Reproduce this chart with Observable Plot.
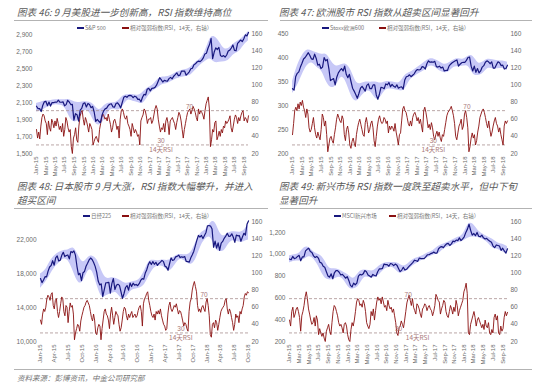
<!DOCTYPE html>
<html><head><meta charset="utf-8">
<script src="https://cdn.jsdelivr.net/npm/d3@7"></script>
<script src="https://cdn.jsdelivr.net/npm/@observablehq/plot@0.6"></script>
<style>
body{margin:0;background:#fff;}
#page{position:relative;width:543px;height:387px;overflow:hidden;font-family:"Liberation Sans",Arial,sans-serif;}
.title{position:absolute;font-family:"Noto Sans CJK SC",sans-serif;font-style:italic;font-size:9.6px;color:#5a5a5a;line-height:normal;white-space:nowrap;}
.rule{position:absolute;height:1px;background:#b3b3b3;}
.leg{position:absolute;font-family:"Noto Sans CJK SC",sans-serif;font-size:5.5px;color:#777;white-space:nowrap;line-height:7px;}
.sw{display:inline-block;width:7px;height:2px;vertical-align:middle;margin-right:1px;position:relative;top:-0.5px;}
.chart{position:absolute;}
.foot{position:absolute;font-family:"Noto Sans CJK SC",sans-serif;font-style:italic;font-size:7.5px;color:#777;white-space:nowrap;}
</style></head><body><div id="page"></div>
<script>
// ---------- tick labels ----------
const ticksBiMonthly = ["Jan-15","Mar-15","May-15","Jul-15","Sep-15","Nov-15","Jan-16","Mar-16","May-16","Jul-16","Sep-16","Nov-16","Jan-17","Mar-17","May-17","Jul-17","Sep-17","Nov-17","Jan-18","Mar-18","May-18","Jul-18","Sep-18"];
const ticksQuarterly = ["Jan-15","Apr-15","Jul-15","Oct-15","Jan-16","Apr-16","Jul-16","Oct-16","Jan-17","Apr-17","Jul-17","Oct-17","Jan-18","Apr-18","Jul-18","Oct-18"];
const rsiTicks = [20,40,60,80,100,120,140,160];
const rsiLevels = [70,30];

// ---------- S&P 500 ----------
const sp500 = [2058,2030,2030,1995,2068,2110,2117,2065,2108,2060,
2102,2100,2108,2105,2130,2107,2105,2110,2063,2077,
2128,2108,2078,2080,1893,1970,1958,1882,2013,2033,
2090,2099,2050,2090,2078,2041,2057,1990,1880,1903,
1880,1864,1951,2000,2027,2036,2066,2081,2087,2051,
2047,2090,2099,2075,2037,2102,2163,2175,2163,2184,
2186,2180,2159,2177,2168,2139,2141,2111,2164,2198,
2191,2259,2270,2239,2269,2271,2281,2307,2351,2395,
2372,2344,2363,2357,2355,2384,2399,2381,2412,2431,
2453,2419,2425,2473,2472,2474,2425,2444,2465,2500,
2507,2549,2559,2581,2591,2585,2602,2629,2675,2683,
2743,2786,2860,2620,2698,2747,2728,2752,2658,2644,
2656,2639,2663,2711,2721,2746,2782,2717,2713,2801,
2820,2840,2821,2856,2901,2888,2930];
const sp500Rsi = [48,38,45,37,52, 62,66,64,58, 55,42,58,50, 46,60,56,50, 58,52,61,55,48, 52,45,55,40, 48,62,58,50, 45,48,28,20, 38,42,50,36,33, 52,63,68,70, 60,53,62,58, 52,45,55,52,48,
30,34,38,40, 36,33,48,55, 62,66,64,60,62, 58,66,60,54, 45,50,58,60, 55,48,52,38,60, 70,72,68,62, 60,64,55,52, 48,40,55,50,44, 48,45,40,42, 30,58,62,65, 72,70,64,55,60,
60,62,55,58, 65,72,76,72, 60,52,45,50,48, 55,45,58,62, 55,42,58,60, 62,58,55,48,56, 62,68,65,58, 48,38,48,55, 62,68,70,72,66, 70,75,72,68, 62,58,72,66, 70,68,65,60,70,
78,82,86,72, 28,36,48,45, 56,58,36,40,46, 40,48,44,52, 50,58,55,57, 60,64,50,45,52, 60,65,62,55, 62,58,64,68, 70,58,62,60, 56,64];
const sp500BandLo = [1990,2000,2040,2060,2080,2070,2050,1900,1860,1900,2030,2000,1860,1820,1880,2010,2030,2000,2060,2150,2110,2110,2070,2160,2240,2260,2320,2320,2350,2380,2400,2410,2420,2480,2550,2580,2640,2560,2580,2580,2600,2680,2690,2780,2830];
const sp500BandHi = [2090,2110,2125,2125,2135,2135,2135,2140,2100,2100,2115,2110,2080,1990,2070,2100,2095,2115,2190,2195,2200,2180,2210,2280,2290,2370,2410,2400,2420,2460,2480,2490,2510,2580,2610,2690,2880,2890,2820,2720,2740,2800,2830,2880,2940];

// ---------- Stoxx Europe 600 ----------
const stoxx600 = [335,332,360,367,370,380,388,397,400,405,
410,404,397,396,407,398,384,386,377,380,
400,393,396,377,352,354,356,343,359,368,
373,377,372,382,365,358,365,350,336,330,
323,315,325,336,340,335,330,342,345,335,
335,343,343,322,313,324,338,337,335,345,
343,348,339,344,340,338,343,336,338,339,
334,353,360,361,364,360,363,366,372,375,
374,375,381,380,376,387,393,390,391,390,
392,381,380,382,378,380,372,373,373,382,
386,389,391,393,395,382,386,389,390,390,
394,400,401,382,372,382,369,377,368,372,
380,383,390,393,391,387,391,378,378,385,
391,389,383,384,376,377,384];
const stoxx600Rsi = [42,55,70,74,70, 78,72,80,76, 82,74,70,62, 72,66,50,45, 48,55,62,50,42, 38,45,40,36, 48,66,62,52, 58,42,22,30, 38,40,35,32,42, 50,60,66,62, 58,56,64,60, 42,35,48,52,44,
30,26,34,38, 32,28,42,50, 56,60,54,48,42, 40,56,62,54, 44,48,55,58, 50,35,28,40,52, 60,64,58,55, 56,62,60,55, 58,44,52,48,52, 50,46,55,45, 38,30,42,44, 58,72,75,70,68,
62,55,52,58, 52,62,66,68, 64,58,62,55,60, 52,45,70,74, 68,60,50,54, 48,56,50,40,36, 42,46,40,45, 38,34,42,40, 48,56,64,68,70, 72,75,70,64, 55,40,36,44, 52,55,60,48,52,
66,70,62,50, 22,28,38,44, 38,42,30,35,45, 52,62,66,70, 72,68,62,55, 50,58,48,40,45, 52,58,62,55, 52,45,50,42, 36,30,52,58, 55,58];
const stoxx600BandLo = [325,340,365,385,392,378,375,345,335,340,365,350,318,305,318,330,332,310,315,334,335,333,330,330,355,360,368,372,383,382,372,368,368,382,380,382,385,362,362,365,380,376,376,378,373];
const stoxx600BandHi = [350,385,405,418,413,410,405,410,390,380,385,388,375,345,345,350,348,350,345,350,350,348,345,365,368,375,382,390,398,397,392,384,388,396,398,395,404,405,385,390,398,395,393,393,390];

// ---------- Nikkei 225 ----------
const nikkei225 = [17450,16970,17280,17670,17650,18330,18820,18990,19560,19030,
19900,20130,19530,19620,20200,20560,20050,20170,20240,19780,
20650,20520,20720,20220,18900,17900,18070,17200,18140,18290,
18900,19260,19650,19880,19700,19350,18890,18200,17150,16700,
16820,15300,16140,16950,16970,17000,15730,16850,17450,16150,
16650,16770,16640,15900,15100,15680,16390,16620,16080,16920,
16500,16900,16670,16750,16600,16840,17230,17440,17370,18100,
18500,19100,19440,19110,19450,19140,19370,19010,19240,19390,
19600,19450,18910,18800,18430,19200,19900,19590,19680,20010,
20070,20220,19930,20020,19960,20050,19470,19450,19400,19900,
20270,20690,21340,22000,22550,22350,22550,22180,22550,22900,
23700,23710,23670,23300,21150,21890,21040,21680,20770,21650,
21840,22210,22470,22810,22450,22480,22740,22340,21720,22590,
22510,22530,21860,22360,22810,22600,23870,24270];
const nikkei225Rsi = [45,40,52,58,55, 60,70,74,72, 68,75,77,62, 58,68,70,55, 48,55,64,72,70, 55,50,62,60, 42,55,65,60, 62,52,22,30, 35,40,38,32,44, 50,55,60,62, 66,68,65,62, 55,48,44,52,45,
30,28,36,40, 38,22,35,45, 55,58,52,50,45, 35,52,60,50, 40,48,55,52, 50,40,32,36,45, 55,60,58,50, 45,52,48,52, 55,48,50,52,48, 50,56,60,62, 55,38,64,70, 72,76,78,68,62,
55,50,48,52, 45,55,52,56, 52,58,50,45,40, 38,33,35,52, 62,66,58,55, 58,62,60,64,58, 52,56,55,50, 44,38,42,40, 35,32,55,66,70, 80,86,90,84, 78,62,55,58, 54,60,62,58,55,
66,70,62,50, 28,25,40,42, 36,45,42,33,40, 48,55,58,60, 62,68,70,58, 52,58,55,48,42, 33,40,52,48, 50,42,55,52, 58,62,72,76, 74,78,77];
const nikkei225BandLo = [16300,16900,17800,18800,19300,19900,19600,18200,16800,16900,18500,18600,16500,15000,15500,15600,16000,15000,15000,16000,16200,16300,16600,17800,18800,18900,19000,18200,18600,19600,19800,19300,19000,19800,21500,22200,22600,20800,20600,20700,21800,22000,21700,21800,22000];
const nikkei225BandHi = [18000,18300,19500,20200,20600,20800,20800,21300,20200,19100,20000,20200,19800,18200,17300,17600,17500,17200,16800,17000,17100,17300,18300,19700,19600,19500,19700,19500,19900,20300,20300,20200,20500,22000,23000,23100,24200,24300,22600,22400,23000,23000,22900,23000,23900];

// ---------- MSCI Emerging Markets ----------
const msciEm = [956,950,980,960,965,980,990,940,975,975,
1030,1045,1055,1025,1015,985,970,980,965,925,
920,890,880,840,800,790,820,775,830,850,
850,835,810,815,800,780,795,760,715,700,
735,720,735,800,815,810,820,850,840,810,
800,790,815,805,800,840,865,865,870,910,
905,905,890,915,910,895,910,900,870,840,
855,880,855,862,880,895,910,925,945,940,
935,965,960,960,960,975,995,995,1005,1010,
1020,1010,1010,1050,1065,1070,1060,1080,1095,1100,
1080,1095,1120,1115,1130,1125,1150,1125,1140,1160,
1200,1230,1275,1220,1175,1190,1170,1200,1165,1160,
1175,1150,1140,1145,1130,1120,1110,1075,1060,1085,
1080,1075,1035,1055,1030,1010,1050];
const msciEmRsi = [45,38,55,60,48, 52,58,60,55, 48,32,50,55, 62,72,78,70, 58,52,45,40,42, 48,38,50,45, 28,35,30,26, 30,24,20,32, 36,40,32,28,42, 55,62,60,55, 50,42,38,40, 36,30,40,42,38,
28,22,20,34, 42,38,45,55, 66,70,68,62,64, 60,68,64,55, 42,38,35,40, 55,50,58,45,56, 66,72,68,70, 64,72,66,60, 62,56,68,62,58, 60,54,58,50, 42,30,27,36, 38,44,40,36,45,
55,65,70,74, 68,62,70,60, 56,52,64,62,58, 52,48,58,60, 64,62,56,60, 62,58,56,50,55, 62,75,72,68, 66,52,58,62, 68,66,55,50,48, 55,62,58,52, 60,55,68,62, 50,56,60,64,68,
78,82,88,76, 30,28,40,45, 50,55,48,38,45, 48,44,40,36, 40,34,45,38, 36,42,30,28,34, 30,48,52,45, 50,30,28,38, 32,35,48,55, 50,54];
const msciEmBandLo = [920,940,935,950,990,955,880,780,760,770,800,770,680,680,700,800,785,780,800,860,880,885,820,835,850,900,925,950,970,995,995,1045,1070,1075,1110,1115,1150,1160,1155,1140,1110,1050,1050,1020,1000];
const msciEmBandHi = [985,995,1000,1070,1070,1010,1000,960,860,870,860,830,810,760,840,860,850,840,890,920,925,925,920,880,915,955,970,985,1015,1030,1075,1090,1110,1130,1160,1165,1285,1290,1215,1185,1160,1140,1100,1095,1070];

// ---------- RSI annotations (label, month, level, side) ----------
const notes46 = [["70","2017-09",70,-1],["30","2017-03",30,-1],["14天RSI","2017-03",30,1]];
const notes47 = [["70","2018-01",70,-1],["30","2017-06",30,-1],["14天RSI","2017-06",30,1]];
const notes48 = [["70","2017-12",70,-1],["30","2017-07",30,-1],["14天RSI","2017-07",30,1]];
const notes49 = [["70","2017-01",70,-1],["30","2016-11",30,-1],["14天RSI","2017-03",30,1]];

// ---------- layout ----------
const page = document.getElementById("page");
const parseTick = d3.utcParse("%b-%y");
const parseMonth = d3.utcParse("%Y-%m");

function add(html, cls, style){
  const d = document.createElement("div");
  d.className = cls; d.innerHTML = html;
  Object.assign(d.style, style);
  page.appendChild(d);
  return d;
}

function panel(cfg){
  const lo = cfg.lo, hi = cfg.hi;
  const toL = r => lo + (r - 20) / 140 * (hi - lo);
  const fromL = v => 20 + (v - lo) / (hi - lo) * 140;
  const t0 = +cfg.start, t1 = +cfg.end;
  const at = (i, n) => new Date(t0 + i * (t1 - t0) / (n - 1));
  const idx = cfg.index.map((v, i) => ({date: at(i, cfg.index.length), v}));
  const rsi = cfg.rsi.map((v, i) => ({date: at(i, cfg.rsi.length), v: toL(v)}));
  const band = cfg.bandLo.map((l, i) => ({date: at(i, cfg.bandLo.length), lo: l, hi: cfg.bandHi[i]}));
  const notes = cfg.notes.map(([t, m, lv, side]) => ({t, date: d3.utcDay.offset(parseMonth(m), 14), y: toL(lv), side}));
  const s = cfg.svg, p = cfg.plot;
  const chart = Plot.plot({
    width: s.w, height: s.h,
    marginLeft: p.x0 - s.left,
    marginRight: s.left + s.w - p.x1,
    marginTop: p.y0 - s.top,
    marginBottom: s.top + s.h - p.y1,
    x: {type: "utc", domain: [cfg.start, cfg.end]},
    y: {domain: [lo, hi]},
    style: {fontFamily: "'Liberation Sans', Arial, sans-serif", fontSize: "6.5px", color: "#6a6a6a", background: "transparent", overflow: "visible"},
    marks: [
      Plot.areaY(band, {x: "date", y1: "lo", y2: "hi", fill: "#c7c8f7", curve: "basis"}),
      Plot.ruleY(rsiLevels.map(toL), {stroke: "#a89090", strokeDasharray: "3,2", strokeWidth: 0.8}),
      Plot.lineY(rsi, {x: "date", y: "v", stroke: "#8a1010", strokeWidth: 0.9}),
      Plot.lineY(idx, {x: "date", y: "v", stroke: "#18187e", strokeWidth: 1.2}),
      Plot.text(notes.filter(d => d.side < 0), {x: "date", y: "y", text: "t", dy: -4, fill: "#a87878", fontSize: 6.5}),
      Plot.text(notes.filter(d => d.side > 0), {x: "date", y: "y", text: "t", dy: 5, fill: "#a87878", fontSize: 6.5, fontFamily: "'Noto Sans CJK SC', sans-serif"}),
      Plot.axisY(cfg.leftTicks, {anchor: "left", tickSize: 0, tickPadding: 4, tickFormat: d3.format(","), label: null}),
      Plot.axisY(rsiTicks.map(toL), {anchor: "right", tickSize: 0, tickPadding: 3, tickFormat: v => String(Math.round(fromL(v))), label: null}),
      Plot.axisX(cfg.xTicks.map(parseTick), {tickRotate: -90, tickSize: 0, tickPadding: 3, tickFormat: d3.utcFormat("%b-%y"), label: null, fontSize: 6})
    ]
  });
  const wrap = add("", "chart", {left: s.left + "px", top: s.top + "px"});
  wrap.appendChild(chart);
  const lg = cfg.legend;
  add(`<span class="sw" style="background:#18187e"></span>${lg.name}`, "leg", {left: lg.x1 + "px", top: lg.y + "px"});
  add(`<span class="sw" style="background:#8a1010"></span>相对强弱指数(RSI，14天，右轴）`, "leg", {left: lg.x2 + "px", top: lg.y + "px"});
}

// titles and rules
add("图表 46: 9 月美股进一步创新高，RSI 指数维持高位", "title", {left: "17px", top: "5px"});
add("图表 47: 欧洲股市 RSI 指数从超卖区间显著回升", "title", {left: "279px", top: "5px"});
add("图表 48: 日本股市 9 月大涨，RSI 指数大幅攀升，并进入", "title", {left: "17px", top: "179px"});
add("超买区间", "title", {left: "17px", top: "193px"});
add("图表 49: 新兴市场 RSI 指数一度跌至超卖水平，但中下旬", "title", {left: "279px", top: "179px"});
add("显著回升", "title", {left: "279px", top: "193px"});
add("", "rule", {left: "14px", top: "20px", width: "254px"});
add("", "rule", {left: "280px", top: "20px", width: "252px"});
add("", "rule", {left: "14px", top: "208px", width: "254px"});
add("", "rule", {left: "280px", top: "208px", width: "252px"});
add("", "rule", {left: "14px", top: "369px", width: "518px"});
add("资料来源：彭博资讯，中金公司研究部", "foot", {left: "17px", top: "372px"});

const startDate = new Date(Date.UTC(2015, 0, 1));
panel({
  index: sp500, rsi: sp500Rsi, bandLo: sp500BandLo, bandHi: sp500BandHi, notes: notes46,
  lo: 1500, hi: 2917, leftTicks: [1500,1700,1900,2100,2300,2500,2700,2900],
  start: startDate, end: new Date(Date.UTC(2018, 8, 30)), xTicks: ticksBiMonthly,
  svg: {left: 0, top: 24, w: 272, h: 154}, plot: {x0: 36, x1: 248, y0: 33, y1: 153},
  legend: {name: "S&P 500", x1: 77, x2: 122, y: 25}
});
panel({
  index: stoxx600, rsi: stoxx600Rsi, bandLo: stoxx600BandLo, bandHi: stoxx600BandHi, notes: notes47,
  lo: 200, hi: 450, leftTicks: [200,250,300,350,400,450],
  start: startDate, end: new Date(Date.UTC(2018, 8, 30)), xTicks: ticksBiMonthly,
  svg: {left: 272, top: 24, w: 271, h: 154}, plot: {x0: 292, x1: 507, y0: 33, y1: 153},
  legend: {name: "Stoxx欧洲600", x1: 322, x2: 379, y: 25}
});
panel({
  index: nikkei225, rsi: nikkei225Rsi, bandLo: nikkei225BandLo, bandHi: nikkei225BandHi, notes: notes48,
  lo: 10000, hi: 24200, leftTicks: [10000,14000,18000,22000],
  start: startDate, end: new Date(Date.UTC(2018, 9, 4)), xTicks: ticksQuarterly,
  svg: {left: 0, top: 212, w: 272, h: 156}, plot: {x0: 40, x1: 248, y0: 221, y1: 341},
  legend: {name: "日经225", x1: 83, x2: 122, y: 213}
});
panel({
  index: msciEm, rsi: msciEmRsi, bandLo: msciEmBandLo, bandHi: msciEmBandHi, notes: notes49,
  lo: 200, hi: 1300, leftTicks: [200,400,600,800,1000,1200],
  start: startDate, end: new Date(Date.UTC(2018, 8, 30)), xTicks: ticksBiMonthly,
  svg: {left: 272, top: 212, w: 271, h: 156}, plot: {x0: 289, x1: 507, y0: 221, y1: 341},
  legend: {name: "MSCI新兴市场", x1: 334, x2: 389, y: 213}
});
</script></body></html>
